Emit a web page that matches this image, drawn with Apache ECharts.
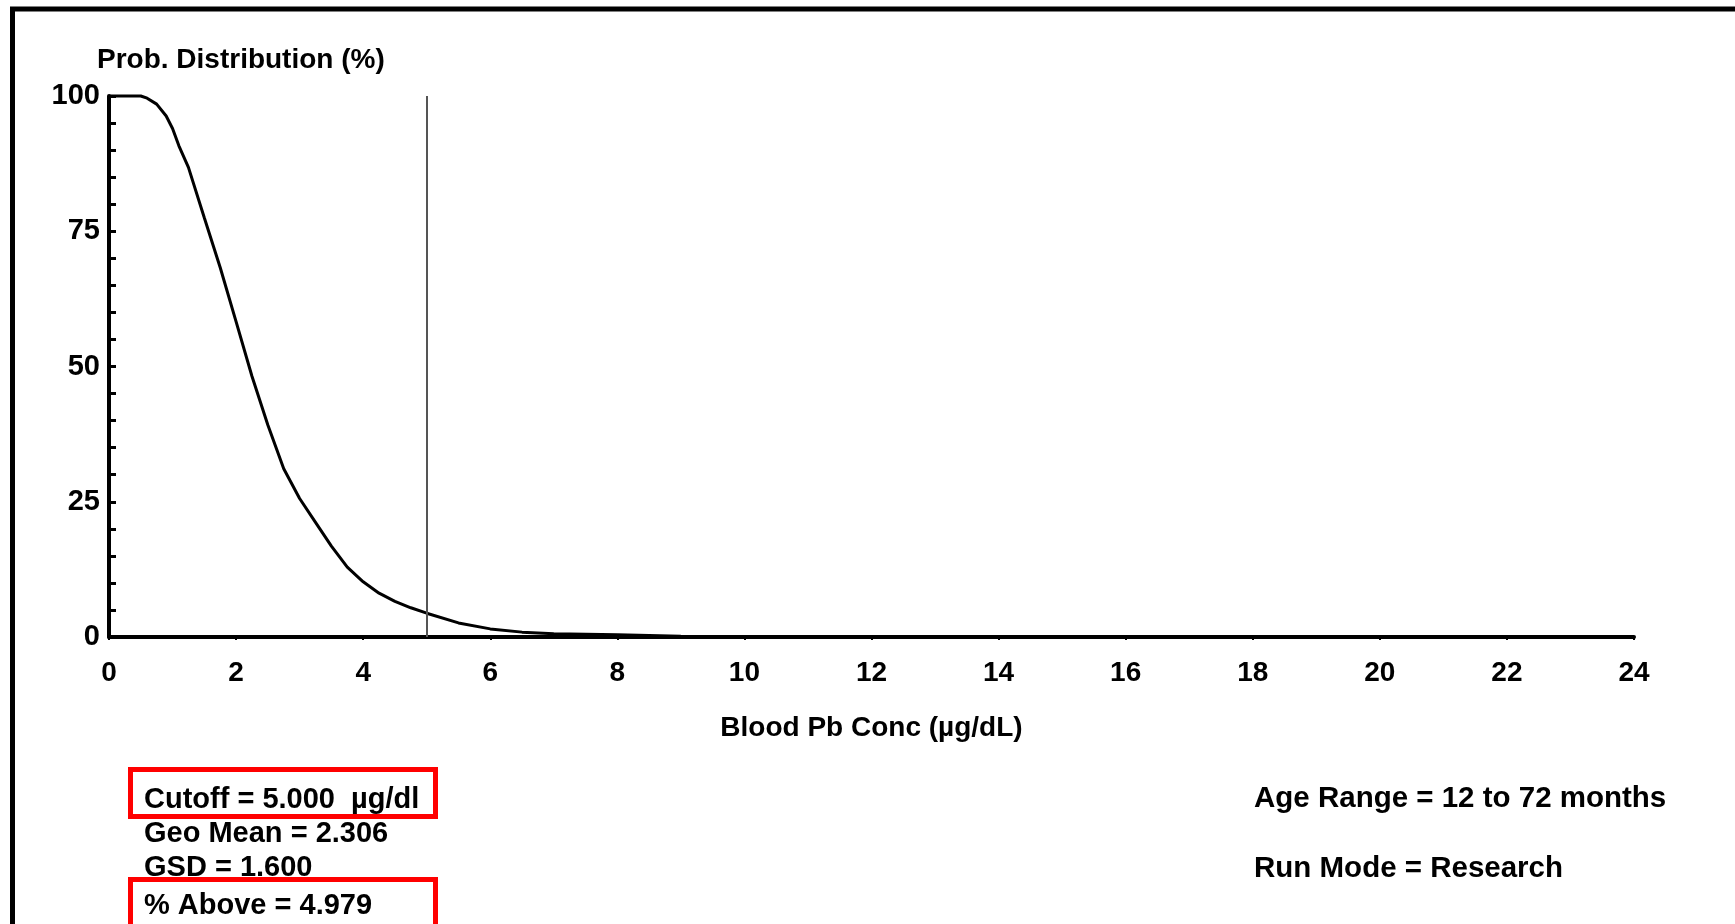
<!DOCTYPE html>
<html>
<head>
<meta charset="utf-8">
<script src="https://cdn.jsdelivr.net/npm/echarts@6/dist/echarts.min.js"></script>
<style>
  html, body { margin: 0; padding: 0; background: #fff; }
  #chart { width: 1735px; height: 924px; }
</style>
</head>
<body>
<div id="chart"></div>
<script>
// blood Pb concentration (ug/dL) and % of distribution above it
const concValues = [0, 0.25, 0.5, 0.6, 0.75, 0.9, 1.0, 1.1, 1.25, 1.5, 1.75, 2.0, 2.25, 2.5, 2.75, 3.0, 3.25, 3.5, 3.75, 4.0, 4.25, 4.5, 4.75, 5.0, 5.5, 6.0, 6.5, 7.0, 7.5, 8.0, 8.5, 9, 10, 24];
const pctAbove = [100, 100, 100, 99.6, 98.5, 96.3, 94.0, 90.8, 86.8, 77.5, 68.3, 58.3, 48.2, 39.2, 31.1, 25.6, 21.2, 16.8, 12.9, 10.2, 8.1, 6.6, 5.4, 4.4, 2.6, 1.5, 0.9, 0.6, 0.5, 0.4, 0.3, 0.15, 0, 0];
const cutoff = 5;
const yTicks = [0, 25, 50, 75, 100];
const infoLeft = ['Cutoff = 5.000  \u00b5g/dl', 'Geo Mean = 2.306', 'GSD = 1.600', '% Above = 4.979'];
const infoRight = ['Age Range = 12 to 72 months', 'Run Mode = Research'];

const chart = echarts.init(document.getElementById('chart'));
const font = '"Liberation Sans", Arial, sans-serif';

const points = concValues.map((x, i) => [x, pctAbove[i]]);

const infoY = [800, 834, 868, 906];
const graphics = [
  // outer frame, runs off the right and bottom edges
  { type: 'rect', shape: { x: 12.5, y: 9, width: 1900, height: 1100 },
    style: { fill: 'none', stroke: '#000', lineWidth: 5 }, z: 10 },
  { type: 'text', left: 97, top: 46,
    style: { text: 'Prob. Distribution (%)', font: 'bold 28px ' + font, fill: '#000' } },
  // red highlight boxes
  { type: 'rect', shape: { x: 130.5, y: 769.5, width: 305, height: 47 },
    style: { fill: 'none', stroke: '#ff0000', lineWidth: 5 } },
  { type: 'rect', shape: { x: 130.5, y: 879.5, width: 305, height: 100 },
    style: { fill: 'none', stroke: '#ff0000', lineWidth: 5 } }
];
infoLeft.forEach((t, i) => {
  graphics.push({ type: 'text', x: 144, y: infoY[i],
    style: { text: t, font: 'bold 29px ' + font, fill: '#000', verticalAlign: 'middle' } });
});
infoRight.forEach((t, i) => {
  graphics.push({ type: 'text', x: 1254, y: [799, 869][i],
    style: { text: t, font: 'bold 29.5px ' + font, fill: '#000', verticalAlign: 'middle' } });
});

const option = {
  backgroundColor: '#fff',
  animation: false,
  grid: { left: 109, right: 101, top: 96, bottom: 287, containLabel: false },
  xAxis: {
    type: 'value',
    min: 0,
    max: 24,
    interval: 2,
    name: 'Blood Pb Conc (\u00b5g/dL)',
    nameLocation: 'middle',
    nameGap: 77,
    nameTextStyle: { fontFamily: font, fontSize: 28, fontWeight: 'bold', color: '#000' },
    axisLine: { lineStyle: { color: '#000', width: 4 } },
    axisTick: { show: true, inside: false, length: 3, lineStyle: { color: '#000', width: 2 } },
    axisLabel: { margin: 22, fontFamily: font, fontSize: 28, fontWeight: 'bold', color: '#000' },
    splitLine: { show: false }
  },
  yAxis: {
    type: 'value',
    min: yTicks[0],
    max: yTicks[yTicks.length - 1],
    interval: 25,
    axisLine: { show: true, lineStyle: { color: '#000', width: 4 } },
    axisTick: { show: true, inside: true, length: 7, lineStyle: { color: '#000', width: 3 } },
    minorTick: { show: true, splitNumber: 5, length: 7, lineStyle: { color: '#000', width: 3 } },
    axisLabel: { margin: 9, fontFamily: font, fontSize: 29, fontWeight: 'bold', color: '#000' },
    splitLine: { show: false }
  },
  series: [
    {
      type: 'line',
      data: points,
      showSymbol: false,
      clip: false,
      lineStyle: { color: '#000', width: 3 },
      markLine: {
        silent: true,
        symbol: 'none',
        label: { show: false },
        lineStyle: { color: '#555', width: 2, type: 'solid' },
        data: [[{ coord: [cutoff, 0] }, { coord: [cutoff, 100] }]]
      }
    }
  ],
  graphic: graphics
};

chart.setOption(option);
</script>
</body>
</html>
